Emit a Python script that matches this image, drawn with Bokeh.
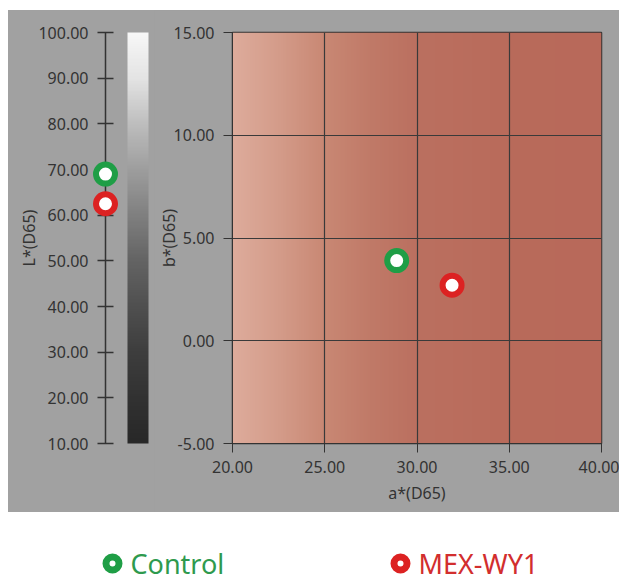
import numpy as np
from bokeh.plotting import figure
from bokeh.layouts import row, column
from bokeh.models import Range1d, FixedTicker, PrintfTickFormatter, ColumnDataSource, Spacer
from bokeh.core.properties import value
from bokeh.embed import file_html
from bokeh.resources import INLINE

# ---- data ----
series = ["Control", "MEX-WY1"]
colors = ["#1f9e46", "#dc2222"]
text_colors = ["#2e9a4e", "#d22e2e"]
L_values = [69.0, 62.5]
a_values = [28.9, 31.9]
b_values = [3.9, 2.7]

L_ticks = [10, 20, 30, 40, 50, 60, 70, 80, 90, 100]
a_ticks = [20, 25, 30, 35, 40]
b_ticks = [-5, 0, 5, 10, 15]

# background colour stops (a* -> rgb) for the chromaticity panel
grad_a = [20, 22.5, 25, 27.5, 30, 35, 40]
grad_r = [222, 212, 201, 192, 187, 185, 184]
grad_g = [172, 156, 136, 122, 112, 107, 105]
grad_b = [156, 138, 116, 104, 96, 91, 90]

# lightness bar stops (L* -> grey level)
bar_L = [10, 20, 30, 40, 50, 60, 70, 80, 90, 100]
bar_v = [40, 50, 62, 80, 100, 128, 158, 190, 228, 248]

FONT = "Noto Sans"
PANEL = "#a1a1a1"
INK = "#333333"

# ---- layout constants (pixels) ----
PANEL_H = 502          # height of grey panel
TOP_PAD = 22           # frame top inside panel
BOT_PAD = 69           # frame bottom margin inside panel
LEFT_W = 146
MAIN_W = 465


def style_axis(ax, size="16px"):
    ax.major_label_text_font = FONT
    ax.major_label_text_font_size = size
    ax.major_label_text_color = INK
    ax.axis_label_text_font = FONT
    ax.axis_label_text_font_size = "16px"
    ax.axis_label_text_font_style = "normal"
    ax.axis_label_text_color = INK
    ax.axis_line_color = INK
    ax.major_tick_line_color = INK
    ax.minor_tick_line_color = None
    ax.formatter = PrintfTickFormatter(format="%.2f")


# ---- left panel: L* ----
frame_h = PANEL_H - TOP_PAD - BOT_PAD
px_per_L = frame_h / (max(L_ticks) - min(L_ticks))
y_lo = min(L_ticks) - BOT_PAD / px_per_L
y_hi = max(L_ticks) + TOP_PAD / px_per_L

left = figure(width=LEFT_W, height=PANEL_H, x_range=Range1d(0, LEFT_W), y_range=Range1d(y_lo, y_hi),
              x_axis_location=None, y_axis_location="left",
              toolbar_location=None, output_backend="svg", min_border=0)
left.frame_align = False
left.background_fill_color = None
left.border_fill_color = PANEL
left.outline_line_color = None
left.grid.visible = False
ly = left.yaxis[0]
ly.fixed_location = 97
ly.bounds = (min(L_ticks), max(L_ticks))
ly.ticker = FixedTicker(ticks=L_ticks)
ly.axis_label = "L*(D65)"
ly.major_tick_in = 8
ly.major_tick_out = 8
ly.major_label_standoff = 9
ly.axis_label_standoff = -5
style_axis(ly)
ly.axis_line_width = 1.5
ly.major_tick_line_width = 1.5

ny = 300
Ly = np.linspace(10, 100, ny)
gv = np.interp(Ly, bar_L, bar_v).astype(np.uint8)
bar_img = np.empty((ny, 1), dtype=np.uint32)
bv = bar_img.view(dtype=np.uint8).reshape((ny, 1, 4))
bv[:, 0, 0] = gv
bv[:, 0, 1] = gv
bv[:, 0, 2] = gv
bv[:, 0, 3] = 255
left.image_rgba(image=[bar_img], x=119, y=min(L_ticks), dw=21, dh=max(L_ticks) - min(L_ticks))

lsrc = ColumnDataSource(dict(x=[97] * len(series), y=L_values, c=colors))
left.scatter("x", "y", source=lsrc, size=19, marker="circle", fill_color="white",
             line_color="c", line_width=6, level="overlay")

# ---- main panel: a*, b* ----
main = figure(width=MAIN_W, height=PANEL_H, x_range=Range1d(20, 40), y_range=Range1d(-5, 15),
              toolbar_location=None, output_backend="svg",
              min_border_left=78, min_border_right=18, min_border_top=TOP_PAD,
              min_border_bottom=BOT_PAD)
main.frame_align = False
main.border_fill_color = PANEL
main.background_fill_color = None
main.outline_line_color = INK
main.outline_line_width = 1.5

nx = 400
ax_ = np.linspace(20, 40, nx)
img = np.empty((2, nx), dtype=np.uint32)
v = img.view(dtype=np.uint8).reshape((2, nx, 4))
v[..., 0] = np.interp(ax_, grad_a, grad_r).astype(np.uint8)
v[..., 1] = np.interp(ax_, grad_a, grad_g).astype(np.uint8)
v[..., 2] = np.interp(ax_, grad_a, grad_b).astype(np.uint8)
v[..., 3] = 255
main.image_rgba(image=[img], x=20, y=-5, dw=20, dh=20, level="image")

main.xgrid.ticker = FixedTicker(ticks=a_ticks)
main.ygrid.ticker = FixedTicker(ticks=b_ticks)
main.grid.grid_line_color = "#3a3a3a"
main.grid.grid_line_width = 1.2

mx = main.xaxis[0]
mx.ticker = FixedTicker(ticks=a_ticks)
mx.axis_label = "a*(D65)"
mx.major_tick_in = 0
mx.major_tick_out = 9
mx.major_label_standoff = 8
mx.axis_label_standoff = 6
style_axis(mx)

my = main.yaxis[0]
my.ticker = FixedTicker(ticks=b_ticks)
my.axis_label = "b*(D65)"
my.major_tick_in = 0
my.major_tick_out = 9
my.major_label_standoff = 9
my.axis_label_standoff = -9
style_axis(my)

msrc = ColumnDataSource(dict(x=a_values, y=b_values, c=colors))
main.scatter("x", "y", source=msrc, size=19, marker="circle", fill_color="white",
             line_color="c", line_width=6)

# ---- legend strip ----
LEG_W, LEG_H = 619, 70
leg = figure(width=LEG_W, height=LEG_H, x_range=Range1d(0, LEG_W), y_range=Range1d(0, LEG_H),
             x_axis_location=None, y_axis_location=None,
             toolbar_location=None, output_backend="svg", min_border=0)
leg.frame_align = False
leg.background_fill_color = None
leg.border_fill_color = "white"
leg.outline_line_color = None
leg.grid.visible = False
leg_x = [112, 400]
gsrc = ColumnDataSource(dict(x=leg_x, tx=[x + 18 for x in leg_x], y=[19, 19],
                             c=colors, tc=text_colors, t=series))
leg.scatter("x", "y", source=gsrc, size=13, marker="circle", fill_color="white",
            line_color="c", line_width=7)
leg.text("tx", "y", text="t", source=gsrc, text_color="tc", text_font=value(FONT),
         text_font_size="27px", text_baseline="middle", text_align="left")

panel = row(left, main, styles={"background-color": PANEL})
layout = column(Spacer(height=10), row(Spacer(width=8), panel), leg)
open("out.html", "w").write(file_html(layout, INLINE))
